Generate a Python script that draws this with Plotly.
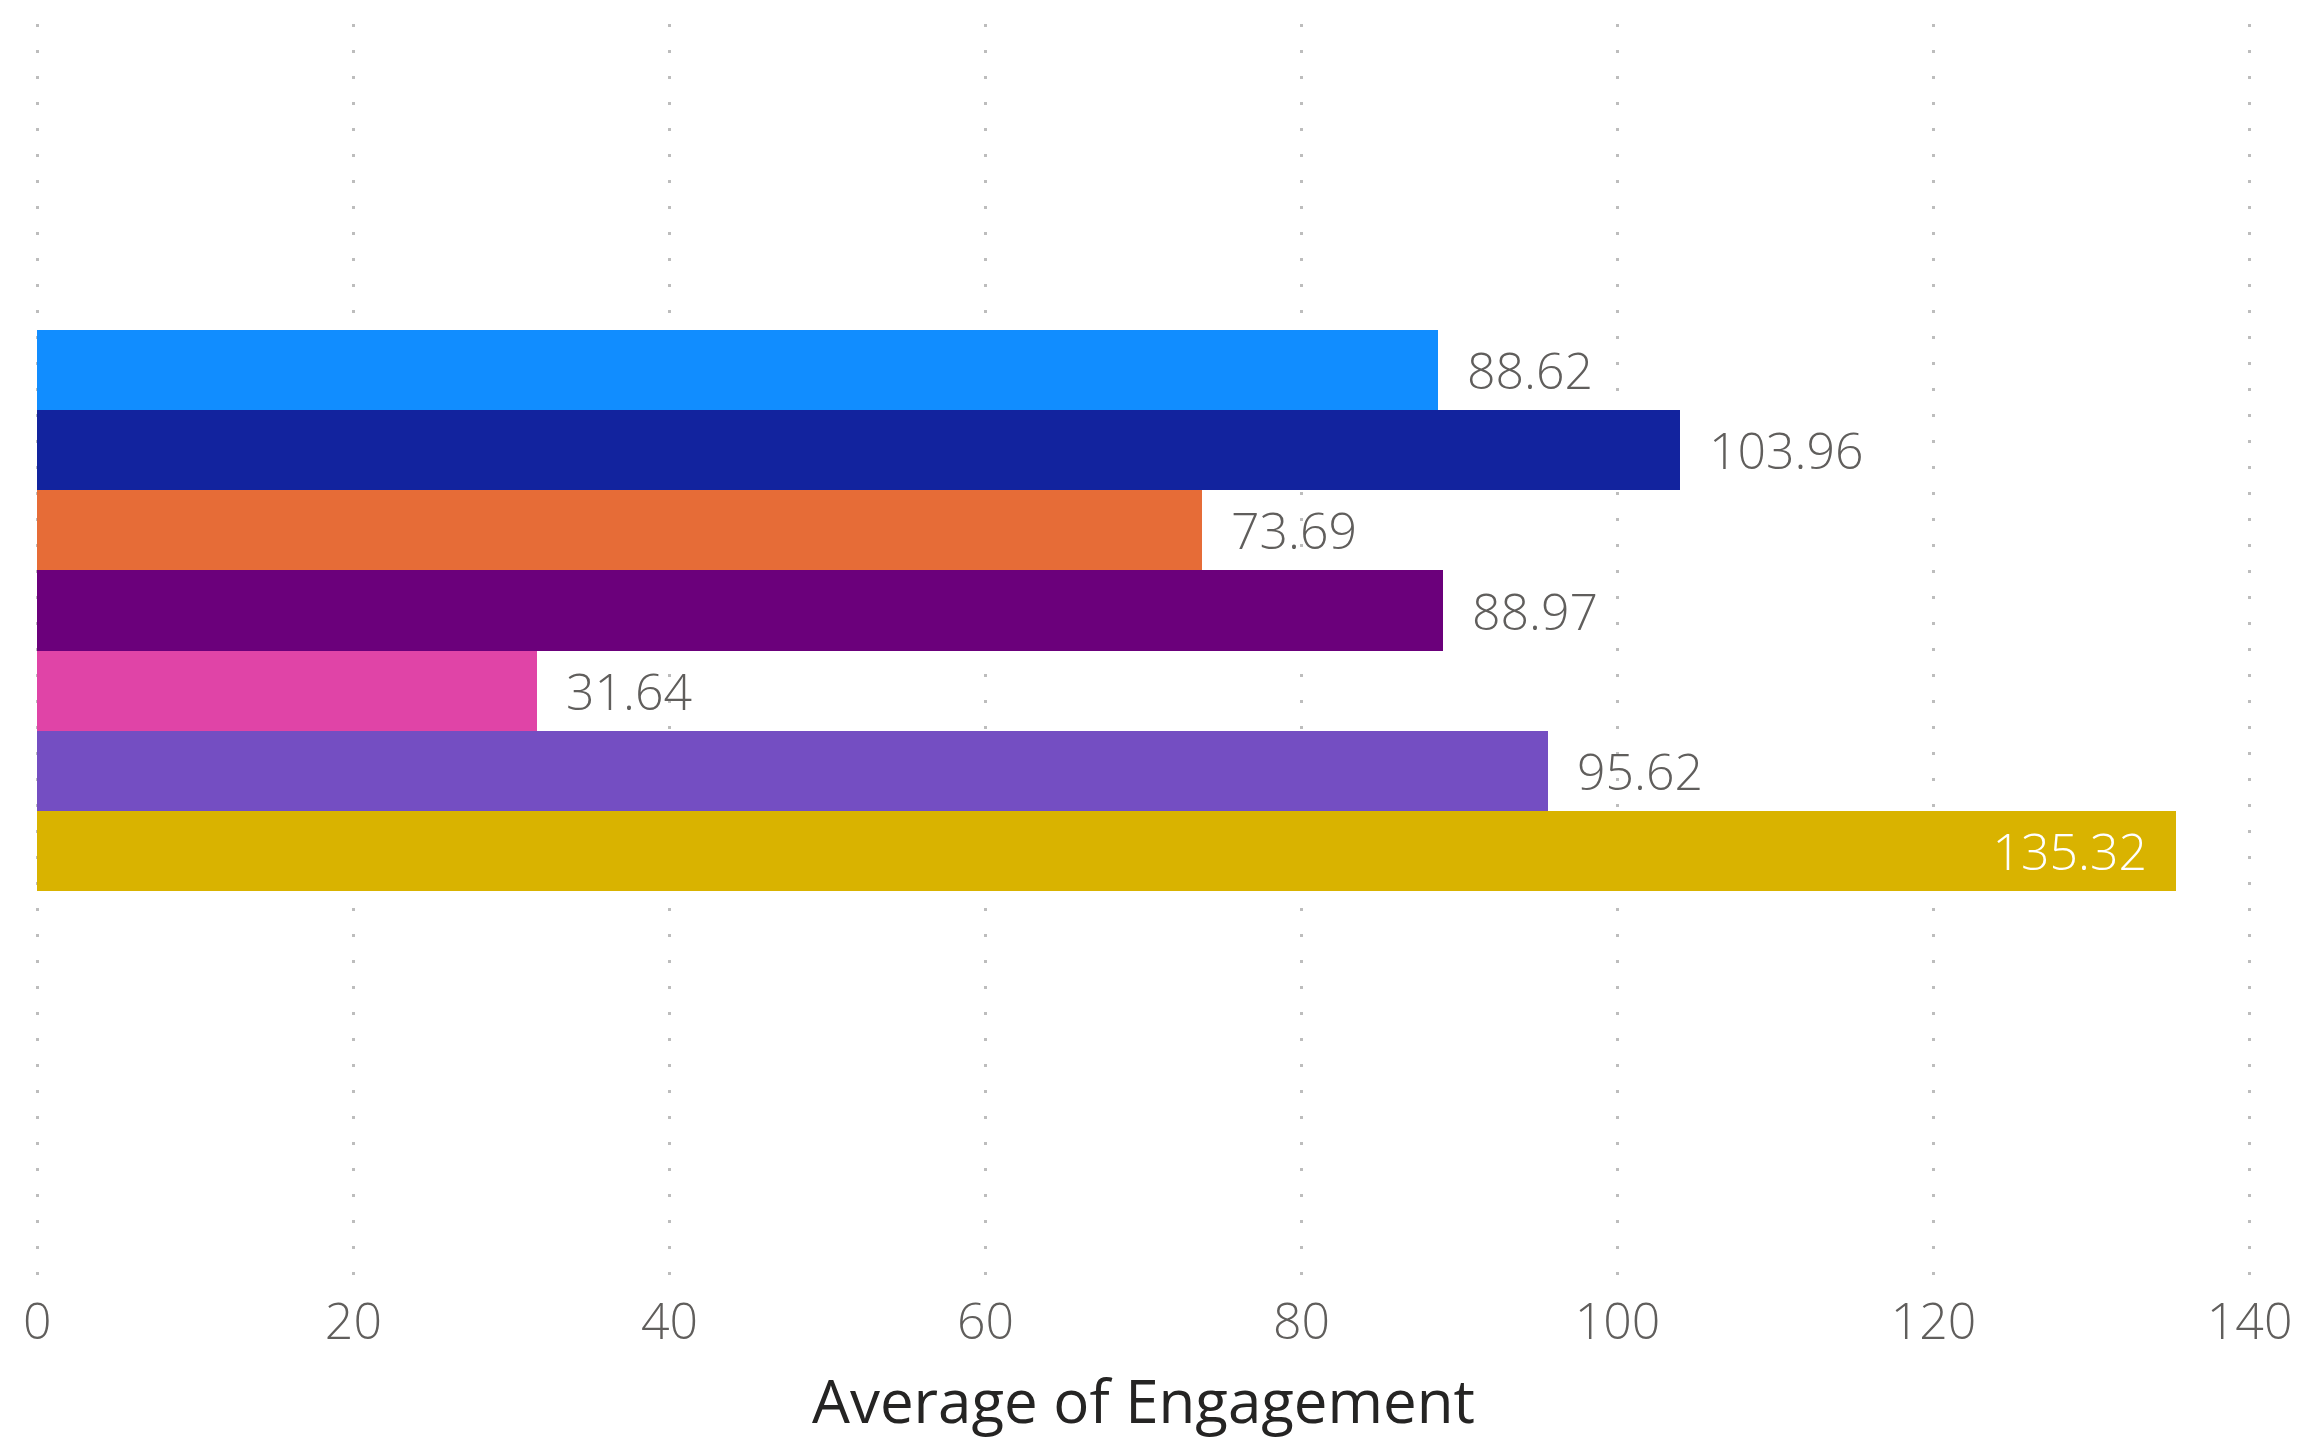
import plotly.graph_objects as go

# ---- data ----
series_names = ["Series 1", "Series 2", "Series 3", "Series 4", "Series 5", "Series 6", "Series 7"]
avg_engagement = [88.62, 103.96, 73.69, 88.97, 31.64, 95.62, 135.32]
bar_colors = ["#118DFF", "#12239E", "#E66C37", "#6B007B", "#E044A7", "#744EC2", "#D9B300"]
label_inside = [False, False, False, False, False, False, True]
x_ticks = [0, 20, 40, 60, 80, 100, 120, 140]
x_title = "Average of Engagement"

NB = "\u00a0"
texts = [(f"{v:.2f}{NB}{NB}" if ins else f"{NB}{NB}{v:.2f}") for v, ins in zip(avg_engagement, label_inside)]
positions = ["inside" if ins else "outside" for ins in label_inside]
text_colors = ["#FFFFFF" if ins else "#605E5C" for ins in label_inside]

FONT = "Open Sans, Segoe UI, sans-serif"

fig = go.Figure(
    go.Bar(
        y=series_names,
        x=avg_engagement,
        orientation="h",
        marker=dict(color=bar_colors, line=dict(width=0)),
        text=texts,
        textposition=positions,
        insidetextanchor="end",
        textfont=dict(family=FONT, size=50, color=text_colors, weight=300),
        constraintext="none",
        cliponaxis=False,
        hoverinfo="skip",
    )
)

# page has an 8px body margin, so the figure is sized to fit the window
W, H = 2292, 1433
x_lo, x_hi = -0.15, 140.15
ml, mr, mt, mb = 27, 48, 16, 161
plot_h = H - mt - mb
bar_px = 80.14
units = plot_h / bar_px
top_val = -0.5 - (322 - mt) / bar_px

fig.update_layout(
    width=W,
    height=H,
    margin=dict(l=ml, r=mr, t=mt, b=mb, pad=0, autoexpand=False),
    paper_bgcolor="white",
    plot_bgcolor="white",
    bargap=0,
    showlegend=False,
    font=dict(family=FONT),
)

fig.update_xaxes(
    range=[x_lo, x_hi],
    tickvals=x_ticks,
    ticktext=[str(t) for t in x_ticks],
    tickfont=dict(family=FONT, size=50, color="#605E5C", weight=300),
    showgrid=True,
    gridcolor="#BDBDBD",
    gridwidth=3,
    griddash="3px,23px",
    zeroline=False,
    showline=False,
    ticks="",
    ticklabelstandoff=8,
    automargin=False,
)

fig.update_yaxes(
    type="category",
    range=[top_val + units, top_val],
    showticklabels=False,
    showgrid=False,
    zeroline=False,
    showline=False,
    ticks="",
    automargin=False,
)

fig.add_annotation(
    text=x_title,
    xref="paper", yref="paper",
    x=0.5, y=(H - mb - 1392) / plot_h,
    xanchor="center", yanchor="middle",
    showarrow=False,
    font=dict(family=FONT, size=60, color="#252423"),
)

fig.write_html("out.html")
